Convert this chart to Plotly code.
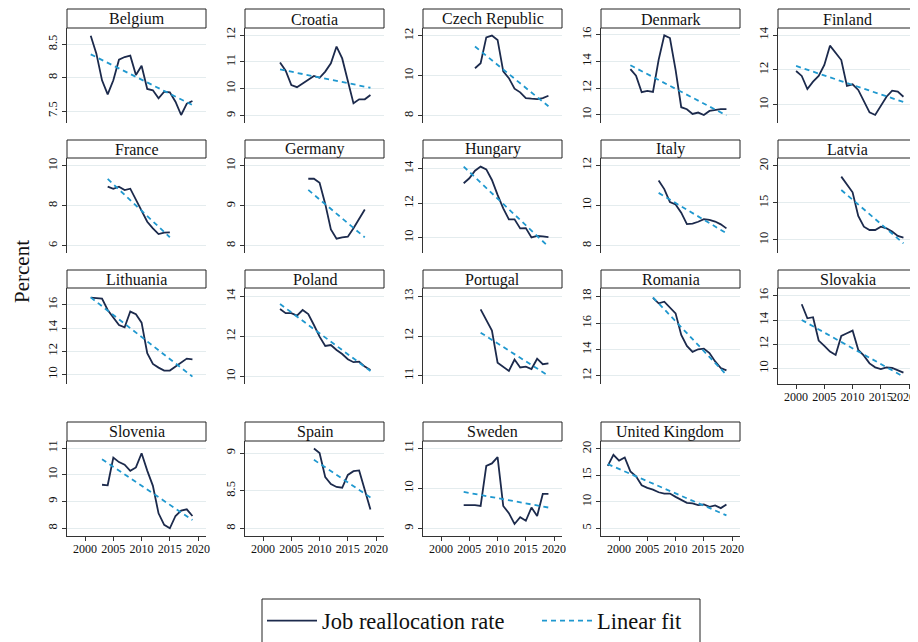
import plotly.graph_objects as go

# ---------------- data ----------------
countries = ["Belgium", "Croatia", "Czech Republic", "Denmark", "Finland",
             "France", "Germany", "Hungary", "Italy", "Latvia",
             "Lithuania", "Poland", "Portugal", "Romania", "Slovakia",
             "Slovenia", "Spain", "Sweden", "United Kingdom"]

start_year = [2001, 2003, 2006, 2002, 2000,
              2004, 2008, 2004, 2007, 2008,
              2001, 2003, 2007, 2006, 2001,
              2003, 2009, 2004, 1998]

belgium = [8.63, 8.36, 7.96, 7.75, 7.96, 8.27, 8.31, 8.33, 8.04, 8.18,
           7.83, 7.81, 7.69, 7.79, 7.78, 7.64, 7.44, 7.61, 7.65]
croatia = [10.98, 10.67, 10.14, 10.06, 10.20, 10.33, 10.48, 10.41, 10.64,
           10.95, 11.57, 11.13, 10.26, 9.46, 9.61, 9.61, 9.77]
czech = [10.38, 10.63, 11.93, 12.02, 11.80, 10.22, 9.88, 9.35, 9.17, 8.88,
         8.85, 8.83, 8.88, 9.00]
denmark = [13.43, 12.93, 11.70, 11.80, 11.72, 14.12, 15.95, 15.75, 13.37,
           10.58, 10.43, 10.08, 10.18, 10.00, 10.30, 10.38, 10.43, 10.43]
finland = [11.94, 11.66, 10.91, 11.33, 11.66, 12.29, 13.39, 12.95, 12.57,
           11.09, 11.18, 10.86, 10.19, 9.58, 9.43, 9.94, 10.47, 10.82,
           10.76, 10.47]
france = [8.96, 8.85, 8.96, 8.79, 8.86, 8.33, 7.79, 7.20, 6.87, 6.58, 6.65, 6.67]
germany = [9.68, 9.68, 9.58, 9.05, 8.41, 8.18, 8.21, 8.23, 8.44, 8.68, 8.91]
hungary = [13.17, 13.46, 13.90, 14.14, 13.98, 13.36, 12.49, 11.71, 11.07,
           11.07, 10.54, 10.56, 10.02, 10.10, 10.08, 10.04]
italy = [11.24, 10.81, 10.16, 10.05, 9.64, 9.07, 9.10, 9.19, 9.32, 9.28,
         9.20, 9.06, 8.86]
latvia = [18.56, 17.57, 16.44, 13.24, 11.80, 11.35, 11.35, 11.80, 11.58,
          11.13, 10.54, 10.32]
lithuania = [16.63, 16.61, 16.55, 15.57, 14.93, 14.27, 14.06, 15.43, 15.20,
             14.47, 11.82, 10.90, 10.58, 10.32, 10.32, 10.66, 10.95, 11.36,
             11.30]
poland = [13.38, 13.17, 13.17, 13.05, 13.33, 13.13, 12.58, 12.00, 11.53,
          11.58, 11.33, 11.13, 10.87, 10.72, 10.75, 10.50, 10.33]
portugal = [12.68, 12.41, 12.14, 11.33, 11.23, 11.12, 11.41, 11.21, 11.23,
            11.17, 11.43, 11.29, 11.31]
romania = [17.92, 17.50, 17.62, 17.19, 16.74, 15.10, 14.27, 13.82, 14.02,
           14.07, 13.73, 13.10, 12.60, 12.42]
slovakia = [15.31, 14.15, 14.24, 12.30, 11.86, 11.39, 11.11, 12.69, 12.91,
            13.13, 11.53, 11.05, 10.41, 10.08, 9.94, 10.08, 10.03, 9.86, 9.64]
slovenia = [9.63, 9.61, 10.65, 10.48, 10.38, 10.15, 10.28, 10.81, 10.16,
            9.59, 8.56, 8.13, 8.00, 8.46, 8.66, 8.71, 8.46]
spain = [9.06, 9.00, 8.68, 8.59, 8.55, 8.54, 8.71, 8.76, 8.77, 8.50, 8.25]
sweden = [9.58, 9.58, 9.58, 9.56, 10.56, 10.62, 10.78, 9.56, 9.38, 9.11,
          9.28, 9.19, 9.52, 9.31, 9.86, 9.86]
uk = [16.81, 18.88, 17.81, 18.38, 15.75, 14.81, 13.13, 12.63, 12.31, 11.81,
      11.56, 11.56, 10.94, 10.31, 9.81, 9.69, 9.38, 9.50, 9.06, 9.31, 8.81,
      9.50]

series = [belgium, croatia, czech, denmark, finland,
          france, germany, hungary, italy, latvia,
          lithuania, poland, portugal, romania, slovakia,
          slovenia, spain, sweden, uk]

# linear-fit line: value at first year and at last year
fit_start = [8.35, 10.72, 11.47, 13.72, 12.23,
             9.35, 9.40, 14.14, 10.62, 16.76,
             16.66, 13.63, 12.09, 17.95, 14.01,
             10.59, 8.91, 9.91, 17.13]
fit_end = [7.59, 10.04, 8.47, 9.97, 10.17,
           6.42, 8.21, 9.48, 8.62, 9.55,
           9.80, 10.28, 11.00, 12.08, 9.31,
           8.31, 8.41, 9.52, 7.44]

y_ticks = [[7.5, 8, 8.5], [9, 10, 11, 12], [8, 10, 12], [10, 12, 14, 16], [10, 12, 14],
           [6, 8, 10], [8, 9, 10], [10, 12, 14], [8, 10, 12], [10, 15, 20],
           [10, 12, 14, 16], [10, 12, 14], [11, 12, 13], [12, 14, 16, 18], [10, 12, 14, 16],
           [8, 9, 10, 11], [8, 8.5, 9], [9, 10, 11], [5, 10, 15, 20]]

x_ticks = [2000, 2005, 2010, 2015, 2020]
x_tick_labels = ["2000", "2005", "2010", "2015", "2020"]

# ---------------- layout geometry ----------------
# the page body has an 8px margin, so the figure is drawn 8px smaller and
# all positions below are given in window pixels
OFF = 8
W, H = 918 - OFF, 642 - OFF
col_left = [67, 245, 423, 601, 778]
panel_w = 139
rows_px = [(9, 28, 123), (140, 158, 253), (270, 288, 384), (422, 441, 536)]
y_ranges = [(7.32, 8.745), (8.73, 12.26), (7.63, 12.4), (9.4, 16.5), (8.97, 14.4),
            (5.63, 10.4), (7.82, 10.2), (9.11, 14.64), (7.64, 12.35), (8.24, 21.08),
            (9.16, 17.47), (9.63, 14.43), (10.79, 13.22), (11.39, 18.66), (8.7, 16.66),
            (7.71, 11.27), (7.9, 9.16), (8.81, 11.18), (3.54, 21.5)]
x_range = [1996.8, 2021.4]
bottom_panels = {14, 15, 16, 17, 18}

LINE_COL = "#1c2a4c"
FIT_COL = "#1f98cf"
FONT = "Liberation Serif"

def px_x(v):
    return (v - OFF) / W

def px_y(v):
    return 1 - (v - OFF) / H

fig = go.Figure()
layout = dict(
    width=W, height=H,
    margin=dict(l=0, r=0, t=0, b=0, autoexpand=False),
    paper_bgcolor="white", plot_bgcolor="white",
    font=dict(family=FONT, color="#111111"),
    showlegend=True,
    shapes=[], annotations=[],
)

for i, name in enumerate(countries):
    r, c = divmod(i, 5)
    k = "" if i == 0 else str(i + 1)
    tt, tb, pb = rows_px[r]
    x0 = col_left[c]
    x1 = x0 + panel_w
    vals = series[i]
    years = [start_year[i] + j for j in range(len(vals))]

    fig.add_trace(go.Scatter(
        x=years, y=vals, mode="lines", xaxis="x" + k, yaxis="y" + k,
        line=dict(color=LINE_COL, width=1.8),
        name="Job reallocation rate", legendgroup="a", showlegend=(i == 0),
        hoverinfo="x+y"))
    fig.add_trace(go.Scatter(
        x=[years[0], years[-1]], y=[fit_start[i], fit_end[i]], mode="lines",
        xaxis="x" + k, yaxis="y" + k,
        line=dict(color=FIT_COL, width=1.8, dash="5px,4px"),
        name="Linear fit", legendgroup="b", showlegend=(i == 0),
        hoverinfo="x+y"))

    is_bottom = i in bottom_panels
    labels = list(x_tick_labels)
    if c == 4:
        # last label of the right-hand column is written by an annotation so
        # that it stays inside the page edge
        labels[-1] = ""
    layout["xaxis" + k] = dict(
        domain=[px_x(x0), px_x(x1)], anchor="y" + k, range=x_range,
        showgrid=False, zeroline=False, automargin=False,
        showline=is_bottom, linecolor="#333333", linewidth=1,
        tickvals=x_ticks, ticktext=labels, ticks="outside" if is_bottom else "",
        ticklen=4, tickcolor="#333333", tickangle=0,
        showticklabels=is_bottom, ticklabelstandoff=-2,
        tickfont=dict(size=12, family=FONT, color="#111111"),
        fixedrange=True,
    )
    layout["yaxis" + k] = dict(
        domain=[px_y(pb), px_y(tb)], anchor="x" + k, range=list(y_ranges[i]),
        showgrid=True, gridcolor="#e4ecee", gridwidth=1, zeroline=False,
        automargin=False,
        showline=True, linecolor="#333333", linewidth=1,
        tickvals=y_ticks[i], ticks="outside", ticklen=4, tickcolor="#333333",
        tickangle=-90, tickfont=dict(size=12.5, family=FONT, color="#111111"),
        fixedrange=True,
    )
    if c == 4 and is_bottom:
        layout["annotations"].append(dict(
            text=x_tick_labels[-1], xref="paper", yref="paper",
            x=px_x(917), y=px_y(pb + 4), xanchor="right", yanchor="top",
            showarrow=False, font=dict(size=12, family=FONT, color="#111111")))
    # panel title box
    layout["shapes"].append(dict(
        type="rect", xref="paper", yref="paper",
        x0=px_x(x0), x1=px_x(x1), y0=px_y(tb), y1=px_y(tt),
        line=dict(color="#222222", width=1), fillcolor="white", layer="above"))
    layout["annotations"].append(dict(
        text=name, xref="paper", yref="paper",
        x=px_x((x0 + x1) / 2), y=px_y((tt + tb) / 2 + 0.5),
        xanchor="center", yanchor="middle", showarrow=False,
        font=dict(size=16, family=FONT, color="#111111")))

# y-axis title
layout["annotations"].append(dict(
    text="Percent", xref="paper", yref="paper", x=px_x(22), y=px_y(272),
    xanchor="center", yanchor="middle", textangle=-90, showarrow=False,
    font=dict(size=21, family=FONT, color="#111111")))

# legend box
layout["shapes"].append(dict(
    type="rect", xref="paper", yref="paper",
    x0=px_x(262), x1=px_x(700), y0=px_y(650), y1=px_y(599),
    line=dict(color="#222222", width=1), fillcolor="rgba(0,0,0,0)"))

layout["legend"] = dict(
    orientation="h", x=px_x(262), xanchor="left", y=px_y(621), yanchor="middle",
    font=dict(size=22.5, family=FONT, color="#111111"),
    bgcolor="rgba(0,0,0,0)", borderwidth=0, itemwidth=50,
    entrywidth=210, entrywidthmode="pixels", itemclick=False, itemdoubleclick=False)

fig.update_layout(**layout)
fig.write_html("out.html")
